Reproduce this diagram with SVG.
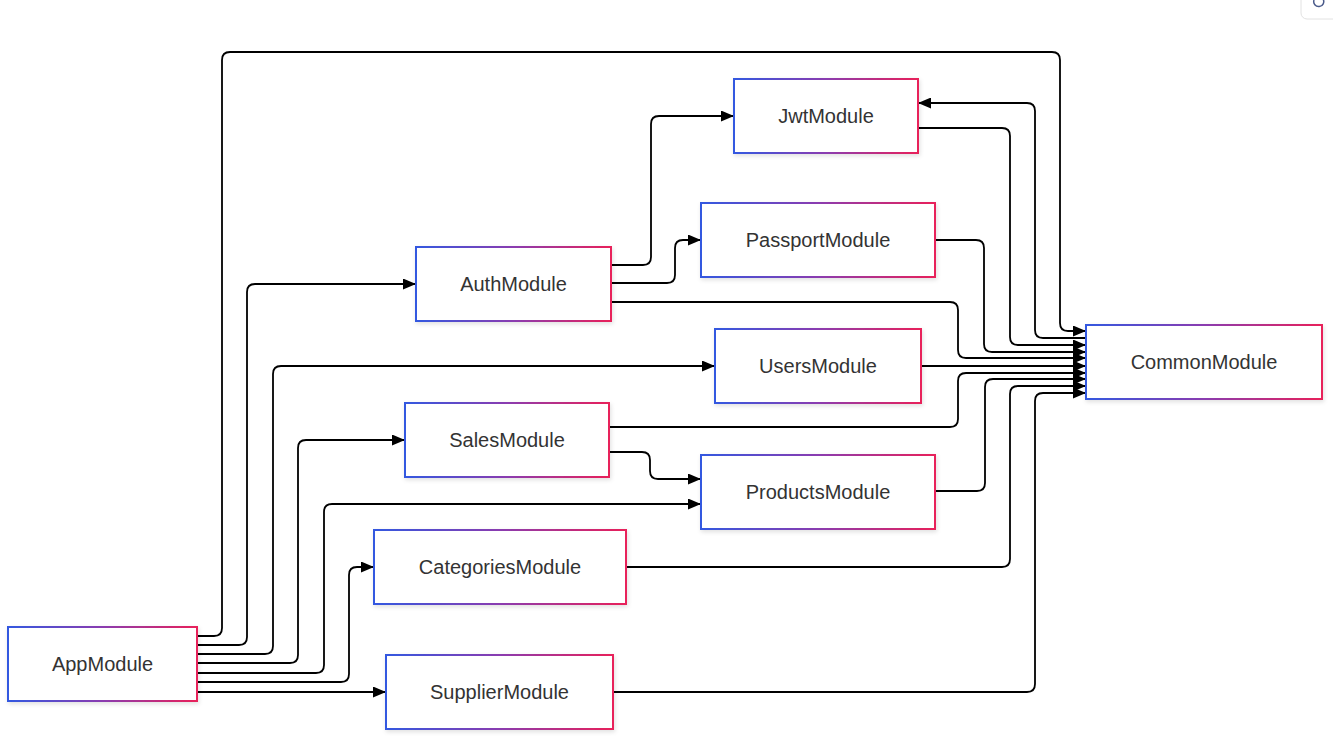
<svg xmlns="http://www.w3.org/2000/svg" width="1333" height="748" viewBox="0 0 1333 748">
<defs>
  <linearGradient id="grad" x1="0" y1="0" x2="1" y2="0">
    <stop offset="0" stop-color="#3358e0"/>
    <stop offset="0.5" stop-color="#8a3cb0"/>
    <stop offset="1" stop-color="#e8205a"/>
  </linearGradient>
  <filter id="shadow" x="-10%" y="-20%" width="120%" height="150%">
    <feDropShadow dx="1" dy="2" stdDeviation="2" flood-color="#000" flood-opacity="0.12"/>
  </filter>
  <marker id="arrow" viewBox="0 0 10 10" refX="10" refY="5" markerUnits="userSpaceOnUse" markerWidth="13" markerHeight="11" preserveAspectRatio="none" orient="auto">
    <path d="M0,0 L10,5 L0,10 z" fill="#000"/>
  </marker>
</defs>
<style>
  .node rect { fill: #ffffff; stroke: url(#grad); stroke-width: 2; filter: url(#shadow); }
  .node text { font-family: "Liberation Sans", Arial, sans-serif; font-size: 20px; fill: #333333; text-anchor: middle; dominant-baseline: central; }
  .edges path { fill: none; stroke: #000; stroke-width: 1.8; }
  .edges path.a { marker-end: url(#arrow); }
</style>
<rect width="1333" height="748" fill="#ffffff"/>

<g id="toolbar">
  <rect x="1301" y="-10" width="50" height="29" rx="6" fill="#ffffff" stroke="#e2e2e2" stroke-width="1"/>
  <path d="M1314,0 A5,5 0 1 0 1323,-1" fill="none" stroke="#4a5a8a" stroke-width="1.5"/>
</g>

<g class="edges" id="connectors">
  <path class="a" d="M197,636 H214 Q222,636 222,628 V60 Q222,52 230,52 H1052 Q1060,52 1060,60 V323 Q1060,331 1068,331 H1086"/>
  <path class="a" d="M197,645 H239 Q247,645 247,637 V292 Q247,284 255,284 H416"/>
  <path class="a" d="M197,654 H265 Q273,654 273,646 V374 Q273,366 281,366 H715"/>
  <path class="a" d="M197,663 H290 Q298,663 298,655 V448 Q298,440 306,440 H405"/>
  <path class="a" d="M197,673 H316 Q324,673 324,665 V512 Q324,504 332,504 H701"/>
  <path class="a" d="M197,682 H341 Q349,682 349,674 V575 Q349,567 357,567 H374"/>
  <path class="a" d="M197,692 H386"/>
  <path class="a" d="M611,265 H643 Q651,265 651,257 V124 Q651,116 659,116 H734"/>
  <path class="a" d="M611,283 H667 Q675,283 675,275 V248 Q675,240 683,240 H701"/>
  <path class="a" d="M611,302 H950 Q958,302 958,310 V350 Q958,358 966,358 H1086"/>
  <path class="a" d="M918,128 H1002 Q1010,128 1010,136 V337 Q1010,345 1018,345 H1086"/>
  <path class="a" d="M1086,338 H1043 Q1035,338 1035,330 V111 Q1035,103 1027,103 H918"/>
  <path class="a" d="M935,240 H976 Q984,240 984,248 V344 Q984,352 992,352 H1086"/>
  <path class="a" d="M921,366 H1086"/>
  <path class="a" d="M609,427 H950 Q958,427 958,419 V381 Q958,373 966,373 H1086"/>
  <path class="a" d="M609,452 H642 Q650,452 650,460 V471 Q650,479 658,479 H701"/>
  <path class="a" d="M935,491 H977 Q985,491 985,483 V387 Q985,379 993,379 H1086"/>
  <path class="a" d="M626,567 H1002 Q1010,567 1010,559 V394 Q1010,386 1018,386 H1086"/>
  <path class="a" d="M613,692 H1027 Q1035,692 1035,684 V401 Q1035,393 1043,393 H1086"/>
</g>

<g class="node" id="JwtModule"><rect x="734" y="79" width="184" height="74"/><text x="826" y="116">JwtModule</text></g>
<g class="node" id="PassportModule"><rect x="701" y="203" width="234" height="74"/><text x="818" y="240">PassportModule</text></g>
<g class="node" id="AuthModule"><rect x="416" y="247" width="195" height="74"/><text x="513.5" y="284">AuthModule</text></g>
<g class="node" id="UsersModule"><rect x="715" y="329" width="206" height="74"/><text x="818" y="366">UsersModule</text></g>
<g class="node" id="CommonModule"><rect x="1086" y="325" width="236" height="74"/><text x="1204" y="362">CommonModule</text></g>
<g class="node" id="SalesModule"><rect x="405" y="403" width="204" height="74"/><text x="507" y="440">SalesModule</text></g>
<g class="node" id="ProductsModule"><rect x="701" y="455" width="234" height="74"/><text x="818" y="492">ProductsModule</text></g>
<g class="node" id="CategoriesModule"><rect x="374" y="530" width="252" height="74"/><text x="500" y="567">CategoriesModule</text></g>
<g class="node" id="AppModule"><rect x="8" y="627" width="189" height="74"/><text x="102.5" y="664">AppModule</text></g>
<g class="node" id="SupplierModule"><rect x="386" y="655" width="227" height="74"/><text x="499.5" y="692">SupplierModule</text></g>
</svg>
